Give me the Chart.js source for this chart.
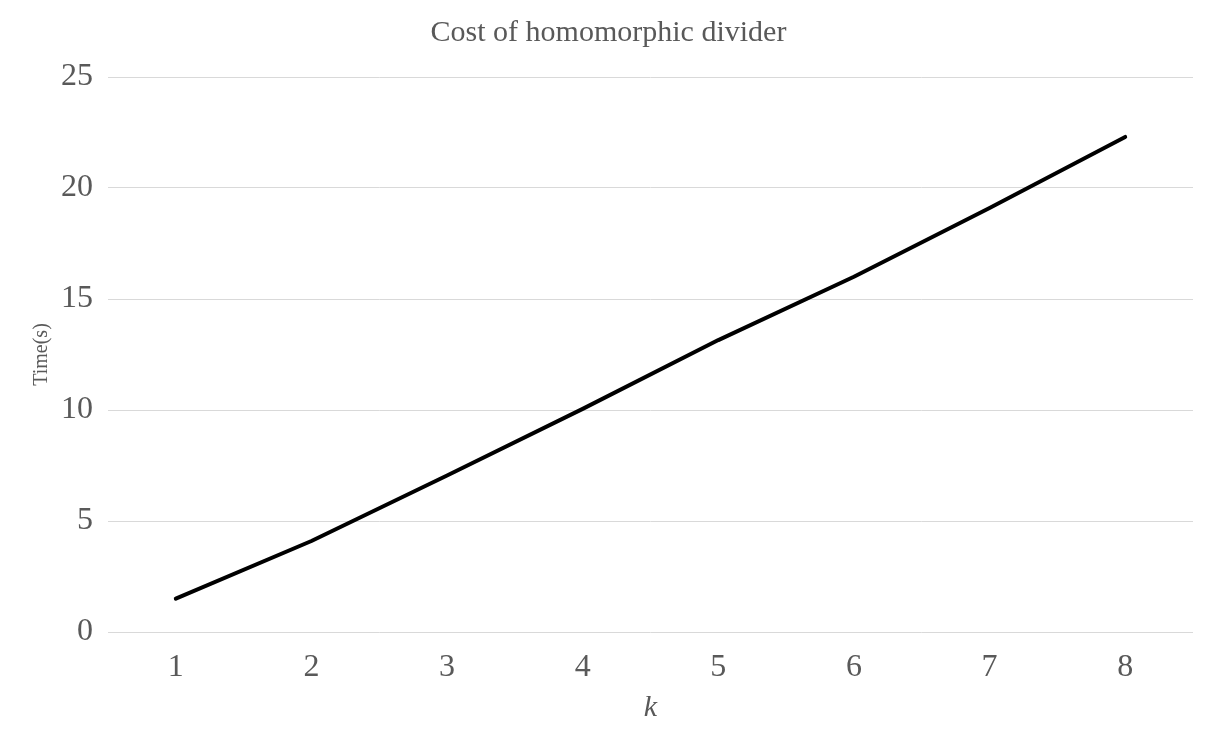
<!DOCTYPE html>
<html>
<head>
<meta charset="utf-8">
<script src="https://cdn.jsdelivr.net/npm/chart.js@4"></script>
<style>
  html, body { margin: 0; padding: 0; background: #fff; }
  #wrap { width: 1217px; height: 736px; }
</style>
</head>
<body>
<div id="wrap"><canvas id="chart" width="1217" height="736"></canvas></div>
<script>
const categories = ["1", "2", "3", "4", "5", "6", "7", "8"];
const timeValues = [1.5, 4.1, 7.05, 10.05, 13.15, 16.0, 19.1, 22.3];
const yTicks = [0, 5, 10, 15, 20, 25];

const grey = "#595959";
const serif = "'Liberation Serif', 'Times New Roman', serif";

const ctx = document.getElementById("chart").getContext("2d");
new Chart(ctx, {
  type: "line",
  data: {
    labels: categories,
    datasets: [{
      label: "Time(s)",
      data: timeValues,
      borderColor: "#000",
      borderWidth: 4,
      borderCapStyle: "round",
      borderJoinStyle: "round",
      pointRadius: 0,
      tension: 0,
      fill: false
    }]
  },
  options: {
    responsive: false,
    animation: false,
    layout: { padding: 0 },
    plugins: {
      legend: { display: false },
      tooltip: { enabled: false },
      title: {
        display: true,
        text: "Cost of homomorphic divider",
        color: grey,
        font: { family: serif, size: 30, weight: "normal" },
        padding: { top: 15, bottom: 26 }
      }
    },
    scales: {
      x: {
        offset: true,
        grid: { display: false, drawTicks: false },
        border: { display: false },
        ticks: {
          color: grey,
          font: { family: serif, size: 32 },
          padding: 16,
          maxRotation: 0
        },
        title: {
          display: true,
          text: "k",
          color: grey,
          font: { family: serif, size: 30, style: "italic" },
          padding: { top: 0, bottom: 10 }
        },
        afterFit: s => { s.height = 104; }
      },
      y: {
        min: 0,
        max: 25,
        afterBuildTicks: s => { s.ticks = yTicks.map(v => ({ value: v })); },
        grid: { color: "#d9d9d9", lineWidth: 1, drawTicks: false },
        border: { display: false },
        ticks: {
          color: grey,
          font: { family: serif, size: 32 },
          padding: 15
        },
        title: {
          display: true,
          text: "Time(s)",
          color: grey,
          font: { family: serif, size: 20 },
          padding: { top: 30, bottom: 0 }
        },
        afterFit: s => { s.width = 108; }
      },
      // empty right margin so the title centres on the whole canvas
      yRight: {
        position: "right",
        display: true,
        grid: { display: false, drawTicks: false },
        border: { display: false },
        ticks: { display: false },
        afterFit: s => { s.width = 24; }
      }
    }
  }
});
</script>
</body>
</html>
